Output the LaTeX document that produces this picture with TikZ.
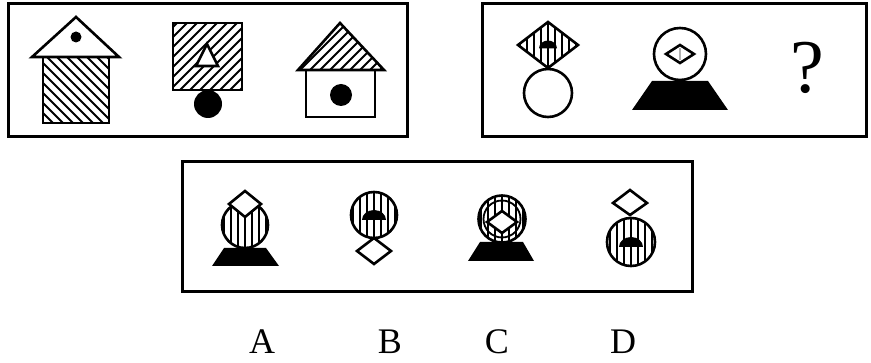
\documentclass[tikz,border=0pt]{standalone}
\usepackage{fontspec}
\setmainfont{Liberation Serif}
\begin{document}
\begin{tikzpicture}[x=1pt,y=-1pt,
 frame/.style={line width=3pt},
 shp/.style={line width=2.6pt, line join=miter},
 hl/.style={line width=1.8pt},
 lab/.style={font=\fontsize{36}{36}\selectfont, inner sep=0pt}]
\useasboundingbox[fill=white] (0,0) rectangle (871,363);

% ---------- panel 1 ----------
\draw[frame] (8,4) rectangle (407,137);
% house 1
\begin{scope}
\clip (43,57) rectangle (109,123);
\foreach \c in {-90,-80,...,60} \draw[hl] (\c+40,40) -- (\c+140,140);
\end{scope}
\draw[shp] (43,57) rectangle (109,123);
\draw[shp, fill=white] (32,57) -- (76,17) -- (119,57) -- cycle;
\fill (76,37) circle[radius=5.5];
% square 2
\begin{scope}
\clip (173,23) rectangle (242,90);
\foreach \c in {190,200,...,340} \draw[hl] (\c-10,10) -- (\c-100,100);
\end{scope}
\draw[shp] (173,23) rectangle (242,90);
\draw[shp, fill=white] (207,44) -- (196,66) -- (218,66) -- cycle;
\fill (208,104) circle[radius=14];
% house 3
\begin{scope}
\clip (298,70) -- (340,23) -- (384,70) -- cycle;
\foreach \c in {310,320,...,460} \draw[hl] (\c-10,10) -- (\c-100,100);
\end{scope}
\draw[shp] (298,70) -- (340,23) -- (384,70) -- cycle;
\draw[shp] (306,70) rectangle (375,117);
\fill (341,95) circle[radius=11];

% ---------- panel 2 ----------
\draw[frame] (482,4) rectangle (866,137);
% figure 1
\begin{scope}
\clip (518,45) -- (548,22) -- (578,45) -- (548,68) -- cycle;
\foreach \x in {520,527,...,576} \draw[hl] (\x,20) -- (\x,70);
\end{scope}
\fill (539,48.5) arc[start angle=180, end angle=360, x radius=9, y radius=8] -- cycle;
\draw[shp] (518,45) -- (548,22) -- (578,45) -- (548,68) -- cycle;
\draw[shp] (548,93) circle[radius=24];
% figure 2
\draw[shp] (680,54) circle[radius=26];
\draw[shp, fill=white] (666,54) -- (680,45) -- (694,54) -- (680,63) -- cycle;
\draw[line width=2.5pt, gray!60] (680,48) -- (680,60);
\fill (652,81) -- (708,81) -- (728,110) -- (632,110) -- cycle;
% question mark
\node[inner sep=0pt, font=\fontsize{76}{76}\selectfont] (q) at (807,68) {?};

% ---------- panel 3 ----------
\draw[frame] (182,162) rectangle (692,292);
% option A
\begin{scope}
\clip (245,225) circle[radius=23];
\foreach \x in {224,231,...,266} \draw[hl] (\x,195) -- (\x,255);
\end{scope}
\draw[shp] (245,225) circle[radius=23];
\draw[shp, fill=white] (229,204) -- (245,191) -- (261,204) -- (245,217) -- cycle;
\fill (224,248) -- (266,248) -- (279,266) -- (212,266) -- cycle;
% option B
\begin{scope}
\clip (374,215) circle[radius=23];
\foreach \x in {353,360,...,395} \draw[hl] (\x,185) -- (\x,245);
\end{scope}
\fill (362,220) arc[start angle=180, end angle=360, x radius=12, y radius=10] -- cycle;
\draw[shp] (374,215) circle[radius=23];
\draw[shp, fill=white] (357,251) -- (374,238) -- (391,251) -- (374,264) -- cycle;
% option C
\begin{scope}
\clip (502,219) circle[radius=23.5];
\foreach \x in {481,488,...,523} \draw[hl] (\x,190) -- (\x,250);
\end{scope}
\draw[shp] (502,219) circle[radius=23.5];
\draw[line width=1.8pt] (502,219) circle[radius=18.5];
\draw[shp, fill=white] (487,222) -- (502,211) -- (517,222) -- (502,233) -- cycle;
\fill (480,242) -- (523,242) -- (534,261) -- (468,261) -- cycle;
% option D
\begin{scope}
\clip (631,242) circle[radius=24];
\foreach \x in {610,617,...,652} \draw[hl] (\x,212) -- (\x,272);
\end{scope}
\fill (619,247) arc[start angle=180, end angle=360, x radius=12, y radius=10] -- cycle;
\draw[shp] (631,242) circle[radius=24];
\draw[shp, fill=white] (613,203) -- (630,190) -- (647,203) -- (630,215) -- cycle;

% labels
\node[lab] (la) at (262,342) {A};
\node[lab] (lb) at (390,342) {B};
\node[lab] (lc) at (497,342) {C};
\node[lab] (ld) at (623,342) {D};
\end{tikzpicture}
\end{document}
